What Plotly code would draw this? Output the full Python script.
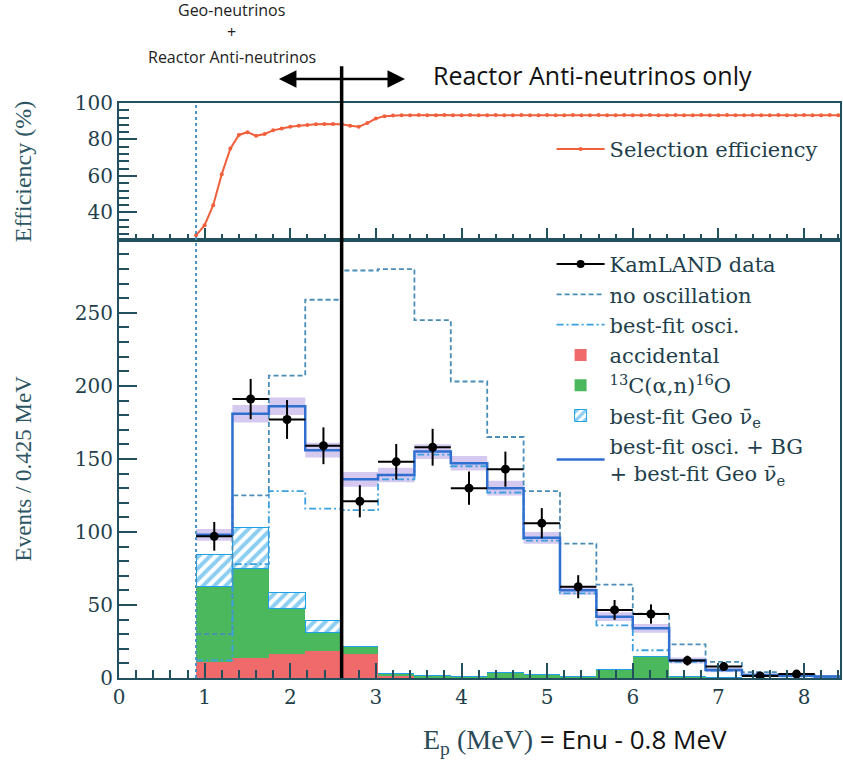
import plotly.graph_objects as go

# ---------------- data ----------------
bin_edges = [0.9, 1.325, 1.75, 2.175, 2.6, 3.025, 3.45, 3.875, 4.3, 4.725,
             5.15, 5.575, 6.0, 6.425, 6.85, 7.275, 7.7, 8.125, 8.55]
bin_centers = [1.1125, 1.5375, 1.9625, 2.3875, 2.8125, 3.2375, 3.6625, 4.0875,
               4.5125, 4.9375, 5.3625, 5.7875, 6.2125, 6.6375, 7.0625, 7.4875,
               7.9125, 8.3375]

data_x = bin_centers[:17]
data_counts = [97, 191, 177, 159, 121, 148, 158, 130, 143, 106, 62.5, 46.6, 43.8,
               11.9, 7.8, 1.4, 2.7]
data_err = [9.8, 13.8, 13.3, 12.6, 11.0, 12.2, 12.6, 11.4, 12.0, 10.3, 7.9, 6.8,
            6.6, 3.4, 2.8, 1.2, 1.6]

no_osc = [30, 125, 207, 259, 279, 280, 245, 203, 165, 128, 92, 64, 44, 23, 11,
          4, 2, 1]
best_fit_osc = [12, 78, 128, 116, 115, 136, 153, 145, 127, 94, 58, 36, 19, 11,
                5, 2, 1.2, 0.8]
accidental = [10.7, 14, 16.4, 18.7, 16.2, 2, 0.5, 0.3, 0.3, 0.2, 0.2, 0.1, 0.1,
              0, 0, 0, 0, 0]
c_alpha_n = [51.8, 61, 31.3, 12.6, 5.7, 1.2, 1, 1, 3.5, 2.5, 1, 6, 14.5, 1,
             0.5, 0, 0, 0]
geo = [22, 28, 11, 8.4, 0, 0, 0, 0, 0, 0, 0, 0, 0, 0, 0, 0, 0, 0]
total_fit = [98, 181, 186, 156, 136, 139, 155, 147, 130, 96, 60, 42, 34, 12,
             5.5, 2, 1.5, 1]
total_band = [4, 6, 6, 5, 5, 5, 5, 5, 5, 4, 3, 3, 3, 2, 1.5, 1, 1, 1]

eff_energy = [0.9, 1.0, 1.1, 1.2, 1.3, 1.4, 1.5, 1.6, 1.7, 1.8, 1.9, 2.0, 2.1,
              2.2, 2.3, 2.4, 2.5, 2.6, 2.7, 2.8, 2.9, 3.0, 3.1, 3.2, 3.3, 3.4,
              3.5, 3.6, 3.7, 3.8, 3.9, 4.0, 4.1, 4.2, 4.3, 4.4, 4.5, 4.6, 4.7,
              4.8, 4.9, 5.0, 5.1, 5.2, 5.3, 5.4, 5.5, 5.6, 5.7, 5.8, 5.9, 6.0,
              6.1, 6.2, 6.3, 6.4, 6.5, 6.6, 6.7, 6.8, 6.9, 7.0, 7.1, 7.2, 7.3,
              7.4, 7.5, 7.6, 7.7, 7.8, 7.9, 8.0, 8.1, 8.2, 8.3, 8.4]
eff_values = [27.5, 33, 44, 61, 75, 82.5, 84, 82, 83, 85, 86, 87, 87.5, 88,
              88.3, 88.5, 88.5, 88.3, 87.5, 87, 89, 91.5, 92.8, 93.2, 93.3,
              93.3, 93.4, 93.3, 93.3, 93.4, 93.3, 93.3, 93.4, 93.3, 93.3, 93.4,
              93.3, 93.3, 93.4, 93.3, 93.3, 93.4, 93.3, 93.3, 93.4, 93.3, 93.3,
              93.4, 93.3, 93.3, 93.4, 93.3, 93.3, 93.4, 93.3, 93.3, 93.4, 93.3,
              93.3, 93.4, 93.3, 93.3, 93.4, 93.3, 93.3, 93.4, 93.3, 93.3, 93.4,
              93.3, 93.3, 93.4, 93.3, 93.3, 93.4, 93.3]

threshold_E = 0.9
boundary_E = 2.6
arrow_left_E = 1.85
arrow_right_E = 3.34

# ---------------- style ----------------
AX = "#23505e"
TXT = "#1f3f4c"
SERIF = "Liberation Serif"
WSERIF = "DejaVu Serif"
SANS = "Open Sans"


def step(values):
    return bin_edges, list(values) + [values[-1]]


fig = go.Figure()

# stacked backgrounds
fig.add_trace(go.Bar(x=bin_centers, y=accidental, width=0.425,
                     marker=dict(color="#f06a6c", line=dict(width=0)),
                     name="accidental", legend="legend2", legendrank=4,
                     xaxis="x", yaxis="y"))
fig.add_trace(go.Bar(x=bin_centers, y=c_alpha_n, width=0.425,
                     marker=dict(color="#4cb85e", line=dict(width=0)),
                     name="<sup>13</sup>C(α,n)<sup>16</sup>O", legend="legend2",
                     legendrank=5, xaxis="x", yaxis="y"))
fig.add_trace(go.Bar(x=bin_centers, y=geo, width=0.425,
                     marker=dict(color="white",
                                 line=dict(color="#1ea0e6", width=1),
                                 pattern=dict(shape="/", fgcolor="#1a9ee6",
                                              bgcolor="white", size=8,
                                              solidity=0.5)),
                     name="best-fit Geo ν̄<sub>e</sub>", legend="legend2",
                     legendrank=6, xaxis="x", yaxis="y"))

# band around total fit
bx, by_hi = step([t + b for t, b in zip(total_fit, total_band)])
_, by_lo = step([t - b for t, b in zip(total_fit, total_band)])
fig.add_trace(go.Scatter(x=bx, y=by_lo, mode="lines", line=dict(width=0, shape="hv"),
                         showlegend=False, hoverinfo="skip", xaxis="x", yaxis="y"))
fig.add_trace(go.Scatter(x=bx, y=by_hi, mode="lines", line=dict(width=0, shape="hv"),
                         fill="tonexty", fillcolor="rgba(185,165,228,0.6)",
                         showlegend=False, hoverinfo="skip", xaxis="x", yaxis="y"))

# no oscillation
sx, sy = step(no_osc)
fig.add_trace(go.Scatter(x=sx, y=sy, mode="lines",
                         line=dict(color="#4a8db8", width=1.8, dash="5px,3px", shape="hv"),
                         name="no oscillation", legend="legend2", legendrank=2,
                         xaxis="x", yaxis="y"))
# best-fit osci
sx, sy = step(best_fit_osc)
fig.add_trace(go.Scatter(x=sx, y=sy, mode="lines",
                         line=dict(color="#3aa0e0", width=1.8, dash="7px,3px,2px,3px",
                                   shape="hv"),
                         name="best-fit osci.", legend="legend2", legendrank=3,
                         xaxis="x", yaxis="y"))
# total fit
sx, sy = step(total_fit)
fig.add_trace(go.Scatter(x=sx, y=sy, mode="lines",
                         line=dict(color="#2f6fd0", width=2.5, shape="hv"),
                         name="best-fit osci. + BG<br>+ best-fit Geo ν̄<sub>e</sub>",
                         legend="legend2", legendrank=7,
                         xaxis="x", yaxis="y"))
# data
fig.add_trace(go.Scatter(x=data_x, y=data_counts, mode="markers",
                         marker=dict(color="black", size=9),
                         error_y=dict(type="data", array=data_err, color="black",
                                      thickness=2, width=0),
                         error_x=dict(type="constant", value=0.2125, color="black",
                                      thickness=2, width=0),
                         name="KamLAND data", showlegend=False,
                         xaxis="x", yaxis="y"))
# legend entry for data (line + dot symbol)
fig.add_trace(go.Scatter(x=[None], y=[None], mode="lines+markers",
                         marker=dict(color="black", size=8),
                         line=dict(color="black", width=2),
                         name="KamLAND data", legend="legend2", legendrank=1,
                         xaxis="x", yaxis="y"))

# efficiency
fig.add_trace(go.Scatter(x=eff_energy, y=eff_values, mode="lines+markers",
                         line=dict(color="#f0603c", width=2),
                         marker=dict(color="#f0603c", size=4),
                         name="Selection efficiency", legend="legend",
                         xaxis="x2", yaxis="y2"))

tickfont = dict(family=WSERIF, size=20, color=TXT)
minor_common = dict(ticks="inside", tickcolor=AX, tickwidth=1.5)

fig.update_layout(
    width=843, height=761,
    margin=dict(l=119, r=1, t=103, b=83),
    paper_bgcolor="white", plot_bgcolor="white",
    font=dict(family=WSERIF, size=21, color=TXT),
    barmode="stack",
    xaxis=dict(domain=[0, 1], range=[0, 8.42], anchor="y",
               showgrid=False, zeroline=False, showline=True, linecolor=AX,
               linewidth=2, mirror=True, ticks="inside", ticklen=15,
               tickwidth=2, tickcolor=AX, dtick=1, tick0=0, tickfont=tickfont,
               minor=dict(dtick=0.2, ticklen=8, **minor_common)),
    yaxis=dict(domain=[0, 0.762], range=[0, 300], anchor="x",
               showgrid=False, zeroline=False, showline=True, linecolor=AX,
               linewidth=2, mirror=True, ticks="inside", ticklen=18,
               tickwidth=2, tickcolor=AX, tickfont=tickfont,
               tickvals=[0, 50, 100, 150, 200, 250],
               minor=dict(dtick=10, ticklen=10, **minor_common)),
    xaxis2=dict(domain=[0, 1], range=[0, 8.42], anchor="y2",
                showgrid=False, zeroline=False, showline=True, linecolor=AX,
                linewidth=2, mirror=True, ticks="inside", ticklen=12,
                tickwidth=2, tickcolor=AX, dtick=1, showticklabels=False,
                minor=dict(dtick=0.2, ticklen=6, **minor_common)),
    yaxis2=dict(domain=[0.762, 1], range=[25, 100], anchor="x2",
                showgrid=False, zeroline=False, showline=True, linecolor=AX,
                linewidth=2, mirror=True, ticks="inside", ticklen=18,
                tickwidth=2, tickcolor=AX, tickvals=[40, 60, 80, 100],
                tickfont=tickfont,
                minor=dict(dtick=4, tick0=0, ticklen=10, **minor_common)),
    legend=dict(x=0.6, y=0.955, xanchor="left", yanchor="top",
                bgcolor="rgba(0,0,0,0)", itemwidth=48,
                font=dict(family=WSERIF, size=21, color=TXT)),
    legend2=dict(x=0.6, y=0.755, xanchor="left", yanchor="top",
                 bgcolor="rgba(0,0,0,0)", traceorder="normal", itemwidth=48,
                 font=dict(family=WSERIF, size=21, color=TXT)),
    showlegend=True,
)

# threshold dotted line and boundary line
fig.add_shape(type="line", xref="x", yref="paper", x0=threshold_E, x1=threshold_E,
              y0=0, y1=1, line=dict(color="#4a90c0", width=2, dash="dot"))
fig.add_shape(type="line", xref="x", yref="paper", x0=boundary_E, x1=boundary_E,
              y0=0, y1=1.064, line=dict(color="black", width=3.5))

# arrow
fig.add_annotation(x=arrow_right_E, y=1.0417, xref="x", yref="paper",
                   ax=arrow_left_E, ay=0, axref="x", ayref="pixel",
                   text="", showarrow=True, arrowside="end+start",
                   arrowhead=2, arrowsize=1.4, arrowwidth=2.5, arrowcolor="black")

fig.add_annotation(x=1.316, y=1.1617, xref="x", yref="paper", yanchor="middle",
                   text="Geo-neutrinos",
                   showarrow=False, font=dict(family=SANS, size=16, color="#222"))
fig.add_annotation(x=1.316, y=1.1235, xref="x", yref="paper", yanchor="middle",
                   text="+",
                   showarrow=False, font=dict(family=SANS, size=16, color="#222"))
fig.add_annotation(x=1.316, y=1.08, xref="x", yref="paper", yanchor="middle",
                   text="Reactor Anti-neutrinos",
                   showarrow=False, font=dict(family=SANS, size=16, color="#222"))
fig.add_annotation(x=3.645, y=1.0487, xref="x", yref="paper", xanchor="left",
                   yanchor="middle", text="Reactor Anti-neutrinos only",
                   showarrow=False, font=dict(family=SANS, size=25, color="#111"))

fig.add_annotation(x=3.53, y=-0.108, xref="x", yref="paper", xanchor="left",
                   yanchor="middle",
                   text=("<span style='font-family:Liberation Serif;font-size:28px;color:#2a4a58'>"
                         "E<sub>p</sub> (MeV)</span> = Enu - 0.8 MeV"),
                   showarrow=False, font=dict(family=SANS, size=26, color="#111"))

fig.add_annotation(x=-0.1328, y=0.88, xref="paper", yref="paper",
                   xanchor="center", yanchor="middle",
                   text="Efficiency (%)", textangle=-90, showarrow=False,
                   font=dict(family=SERIF, size=24, color="#2d5563"))
fig.add_annotation(x=-0.1328, y=0.365, xref="paper", yref="paper",
                   xanchor="center", yanchor="middle",
                   text="Events / 0.425 MeV", textangle=-90, showarrow=False,
                   font=dict(family=SERIF, size=23, color="#2d5563"))

fig.write_html("out.html")
